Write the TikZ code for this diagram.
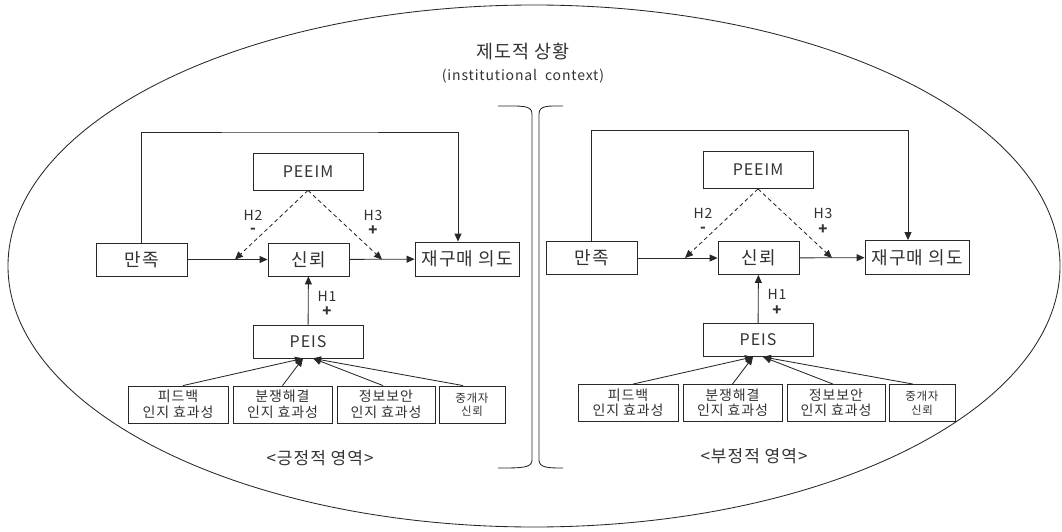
\documentclass[tikz,border=0pt]{standalone}
\usepackage{fontspec}
\setmainfont{Noto Sans CJK KR}[LetterSpace=6]
\usetikzlibrary{arrows.meta,calc}
\definecolor{ink}{RGB}{40,40,40}
\definecolor{txt}{RGB}{50,50,50}
\tikzset{
  ln/.style={draw=ink, line width=0.85pt},
  arr/.style={ln, -{Triangle[length=8pt,width=7pt]}},
  dsh/.style={arr, dash pattern=on 4pt off 3pt},
  bigbox/.style={ln, text=txt, inner sep=0pt, font=\fontsize{18}{20}\selectfont},
  latbox/.style={bigbox, font=\fontsize{16}{18}\selectfont},
  smallbox/.style={ln, text=txt, inner sep=0pt, align=center, font=\fontsize{14}{15.5}\selectfont},
  tinybox/.style={ln, text=txt, inner sep=0pt, align=center, font=\fontsize{11.5}{13.5}\selectfont},
  lbl/.style={text=txt, inner sep=0pt, font=\fontsize{14}{16}\selectfont},
  sgn/.style={text=txt, inner sep=0pt, font=\fontsize{15}{16}\selectfont\bfseries},
  captxt/.style={text=txt, inner sep=0pt, font=\fontsize{17}{19}\selectfont},
}
\newcommand\drawpanel[4]{%
\begin{scope}[shift={(#2)}]
  \node[bigbox, minimum width=91, minimum height=33] (#1sat) at (141.5,259.5) {만족};
  \node[bigbox, minimum width=81, minimum height=33] (#1tru) at (308.5,259.5) {신뢰};
  \node[bigbox, minimum width=104, minimum height=34] (#1rep) at (467,259) {재구매 의도};
  \node[latbox, minimum width=110, minimum height=37] (#1peeim) at (308,171.5) {PEEIM};
  \node[latbox, minimum width=110, minimum height=33] (#1peis) at (308,341.5) {PEIS};
  \node[smallbox, minimum width=100, minimum height=37] (#1fb) at (178,404.5) {피드백\\인지 효과성};
  \node[smallbox, minimum width=99, minimum height=37] (#1dr) at (282.5,404.5) {분쟁해결\\인지 효과성};
  \node[smallbox, minimum width=98, minimum height=37] (#1sec) at (386,404.5) {정보보안\\인지 효과성};
  \node[tinybox, minimum width=66, minimum height=37] (#1med) at (472,404.5) {중개자\\신뢰};
  \node[captxt] (#1cap) at (#3,458) {#4};
  \coordinate (#1top) at (300,132);
  \coordinate (#1m2) at (235,259.5);
  \coordinate (#1m3) at (382,259.5);
  \draw[arr] (#1sat.north) |- (#1top) -| ([xshift=-9]#1rep.north);
  \draw[arr] (#1sat) -- (#1tru);
  \draw[arr] (#1tru) -- (#1rep);
  \draw[dsh] (#1peeim.south) -- (#1m2);
  \draw[dsh] (#1peeim.south) -- (#1m3);
  \draw[arr] (#1peis) -- (#1tru);
  \draw[arr] ([xshift=5]#1fb.north) -- ([xshift=-5]#1peis.south);
  \draw[arr] (#1dr.north) -- ([xshift=-5]#1peis.south);
  \draw[arr] ([xshift=-3]#1sec.north) -- ([xshift=5]#1peis.south);
  \draw[arr] ([xshift=-9]#1med.north) -- ([xshift=5]#1peis.south);
  \node[lbl] (#1h2) at (253,215) {H2};
  \node[sgn] (#1h2s) at (253,231) {-};
  \node[lbl] (#1h3) at (373,215) {H3};
  \node[sgn] (#1h3s) at (373,231) {+};
  \node[lbl] (#1h1) at (327,296) {H1};
  \node[sgn] (#1h1s) at (327,312) {+};
\end{scope}}
\begin{document}
\begin{tikzpicture}[x=1pt,y=-1pt]
  \useasboundingbox (0,0) rectangle (1062,532);
  \draw[ln] (534,266) ellipse [x radius=526, y radius=261];
  \node[captxt, font=\fontsize{18.5}{20}\selectfont] (title) at (523,52) {제도적 상황};
  \node[captxt, font=\fontsize{14}{18}\selectfont] (subtitle) at (523,76) {(institutional\ \ context)};
  \draw[ln] (498,106) .. controls (522,106) and (532,105) .. (532,114) -- (532,460) .. controls (532,468) and (522,468) .. (498,468);
  \draw[ln] (563,106) .. controls (549,106) and (539,105) .. (539,114) -- (539,460) .. controls (539,468) and (549,468) .. (563,468);
  \drawpanel{L}{0,0}{320}{<긍정적 영역>}
  \drawpanel{R}{450,-1.5}{304}{<부정적 영역>}
\end{tikzpicture}
\end{document}
